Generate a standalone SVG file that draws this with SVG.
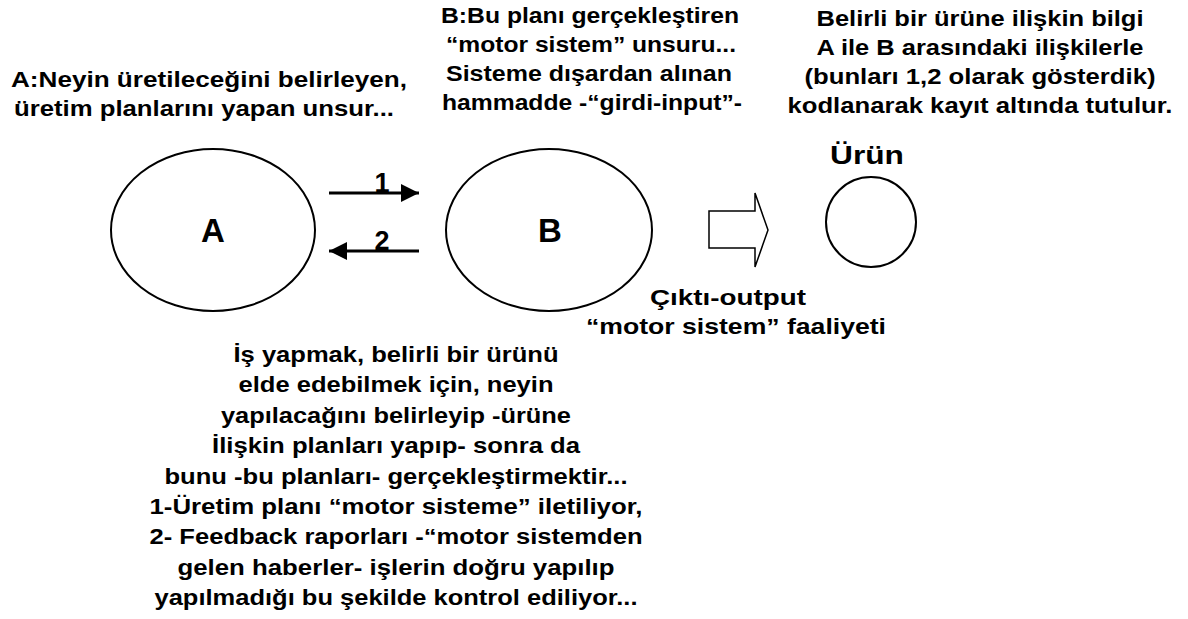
<svg xmlns="http://www.w3.org/2000/svg" width="1188" height="619" viewBox="0 0 1188 619">
<defs>
<style>
.t{font-family:"Liberation Sans",Arial,sans-serif;font-weight:bold;font-size:22px;fill:#000;text-anchor:middle}
.big{font-size:33px}
.num{font-size:27px}
.node{fill:#fff;stroke:#000;stroke-width:2}
.conn{stroke:#000;stroke-width:3;fill:none}
</style>
<marker id="ah" viewBox="0 0 10 10" refX="10" refY="5" markerWidth="6" markerHeight="6" markerUnits="strokeWidth" orient="auto">
<path d="M0,0 L10,5 L0,10 z" fill="#000"/>
</marker>
</defs>
<rect width="1188" height="619" fill="#fff"/>
<g id="label-A-desc">
<text class="t" x="209" y="87" textLength="396" lengthAdjust="spacingAndGlyphs">A:Neyin üretileceğini belirleyen,</text>
<text class="t" x="204" y="116" textLength="380" lengthAdjust="spacingAndGlyphs">üretim planlarını yapan unsur...</text>
</g>
<g id="label-B-desc">
<text class="t" x="590" y="23" textLength="298" lengthAdjust="spacingAndGlyphs">B:Bu planı gerçekleştiren</text>
<text class="t" x="591" y="52" textLength="290" lengthAdjust="spacingAndGlyphs">“motor sistem” unsuru...</text>
<text class="t" x="589" y="81" textLength="286" lengthAdjust="spacingAndGlyphs">Sisteme dışardan alınan</text>
<text class="t" x="592" y="110" textLength="300" lengthAdjust="spacingAndGlyphs">hammadde -“girdi-input”-</text>
</g>
<g id="label-info">
<text class="t" x="980" y="26" textLength="327" lengthAdjust="spacingAndGlyphs">Belirli bir ürüne ilişkin bilgi</text>
<text class="t" x="980" y="55" textLength="327" lengthAdjust="spacingAndGlyphs">A ile B arasındaki ilişkilerle</text>
<text class="t" x="980" y="84" textLength="351" lengthAdjust="spacingAndGlyphs">(bunları 1,2 olarak gösterdik)</text>
<text class="t" x="980" y="113" textLength="385" lengthAdjust="spacingAndGlyphs">kodlanarak kayıt altında tutulur.</text>
</g>
<g id="node-A">
<ellipse class="node" cx="213" cy="230" rx="102" ry="81"/>
<text class="t big" x="213" y="242">A</text>
</g>
<g id="node-B">
<ellipse class="node" cx="549" cy="230" rx="103" ry="81"/>
<text class="t big" x="550" y="242">B</text>
</g>
<g id="node-Urun">
<text class="t" style="font-size:26px" x="867" y="164" textLength="74" lengthAdjust="spacingAndGlyphs">Ürün</text>
<circle class="node" cx="871" cy="222" r="45"/>
</g>
<g id="connectors">
<line class="conn" x1="329" y1="193" x2="419" y2="193" marker-end="url(#ah)"/>
<text class="t num" x="382" y="192">1</text>
<line class="conn" x1="419" y1="251" x2="329" y2="251" marker-end="url(#ah)"/>
<text class="t num" x="382" y="250">2</text>
<path d="M709,211 L755,211 L755,193 L768,230 L755,267 L755,248 L709,248 Z" fill="#fff" stroke="#000" stroke-width="1.5"/>
</g>
<g id="label-output">
<text class="t" x="728" y="305" textLength="156" lengthAdjust="spacingAndGlyphs">Çıktı-output</text>
<text class="t" x="736" y="334" textLength="300" lengthAdjust="spacingAndGlyphs">“motor sistem” faaliyeti</text>
</g>
<g id="label-bottom">
<text class="t" x="396" y="362" textLength="325" lengthAdjust="spacingAndGlyphs">İş yapmak, belirli bir ürünü</text>
<text class="t" x="396" y="392.4" textLength="315" lengthAdjust="spacingAndGlyphs">elde edebilmek için, neyin</text>
<text class="t" x="396" y="422.8" textLength="350" lengthAdjust="spacingAndGlyphs">yapılacağını belirleyip -ürüne</text>
<text class="t" x="396" y="453.2" textLength="368" lengthAdjust="spacingAndGlyphs">İlişkin planları yapıp- sonra da</text>
<text class="t" x="396" y="483.6" textLength="463" lengthAdjust="spacingAndGlyphs">bunu -bu planları- gerçekleştirmektir...</text>
<text class="t" x="396" y="514" textLength="493" lengthAdjust="spacingAndGlyphs">1-Üretim planı “motor sisteme” iletiliyor,</text>
<text class="t" x="396" y="544.4" textLength="493" lengthAdjust="spacingAndGlyphs">2- Feedback raporları -“motor sistemden</text>
<text class="t" x="396" y="574.8" textLength="437" lengthAdjust="spacingAndGlyphs">gelen haberler- işlerin doğru yapılıp</text>
<text class="t" x="396" y="605" textLength="483" lengthAdjust="spacingAndGlyphs">yapılmadığı bu şekilde kontrol ediliyor...</text>
</g>
</svg>
